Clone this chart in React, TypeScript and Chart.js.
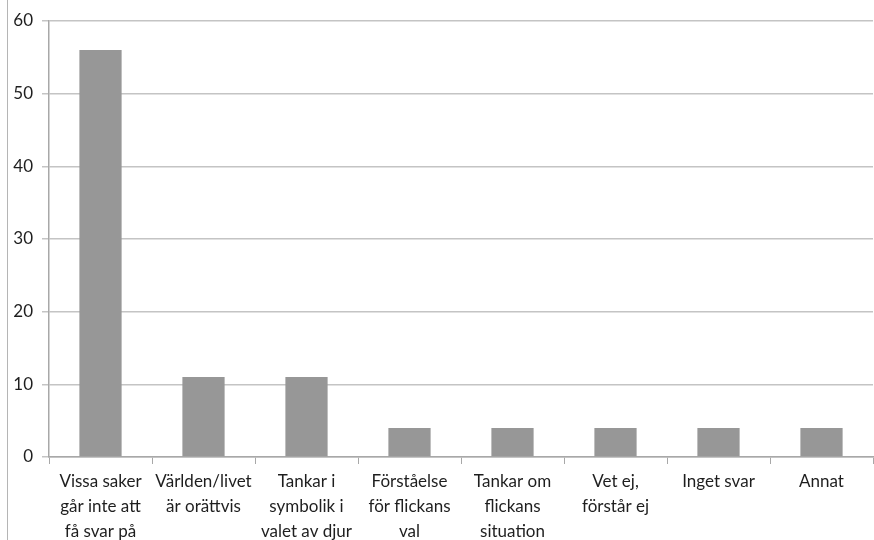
import React, { useEffect, useRef } from "react";
import { Chart, registerables } from "chart.js";

Chart.register(...registerables);

// Response categories (wrapped over several lines as in the axis)
const categories: string[][] = [
  ["Vissa saker", "går inte att", "få svar på"],
  ["Världen/livet", "är orättvis"],
  ["Tankar i", "symbolik i", "valet av djur"],
  ["Förståelse", "för flickans", "val"],
  ["Tankar om", "flickans", "situation"],
  ["Vet ej,", "förstår ej"],
  ["Inget svar"],
  ["Annat"],
];

const counts: number[] = [56, 11, 11, 4, 4, 4, 4, 4];

const yMin = 0;
const yMax = 60;
const yStep = 10;

const FONT = "Lato, 'Open Sans', sans-serif";

export default function App() {
  const canvasRef = useRef<HTMLCanvasElement | null>(null);

  useEffect(() => {
    const canvas = canvasRef.current;
    if (!canvas) return;
    const chart = new Chart(canvas, {
      type: "bar",
      data: {
        labels: categories,
        datasets: [
          {
            data: counts,
            backgroundColor: "#979797",
            borderWidth: 0,
            barPercentage: 0.41,
            categoryPercentage: 1,
          },
        ],
      },
      options: {
        animation: false,
        responsive: false,
        maintainAspectRatio: false,
        layout: { padding: { top: 21, right: 1, left: 0, bottom: 0 } },
        plugins: {
          legend: { display: false },
          tooltip: { enabled: false },
        },
        scales: {
          x: {
            grid: {
              display: true,
              drawOnChartArea: false,
              drawTicks: true,
              tickLength: 7,
              color: "#a8a8a8",
              offset: true,
            },
            border: { display: true, color: "#a8a8a8", width: 1.5 },
            ticks: {
              color: "#1e1e1e",
              font: { family: FONT, size: 17, lineHeight: 1.47 },
              padding: 5,
              maxRotation: 0,
              autoSkip: false,
            },
            afterFit: (scale: any) => {
              scale.height = 83;
            },
          },
          y: {
            min: yMin,
            max: yMax,
            ticks: {
              stepSize: yStep,
              color: "#1e1e1e",
              font: { family: FONT, size: 17 },
              padding: 9,
            },
            grid: {
              color: "#c4c4c4",
              lineWidth: 1.5,
              drawTicks: true,
              tickLength: 7,
            },
            border: { display: true, color: "#a8a8a8", width: 1.5 },
            afterFit: (scale: any) => {
              scale.width = 49;
            },
          },
        },
      },
    });
    return () => chart.destroy();
  }, []);

  return (
    <div
      style={{
        position: "absolute",
        left: 0,
        top: 0,
        width: 874,
        height: 540,
        background: "#ffffff",
        overflow: "hidden",
      }}
    >
      <div
        style={{
          position: "absolute",
          left: 7,
          top: 0,
          width: 1,
          height: 540,
          background: "#b5b5b5",
        }}
      />
      <canvas
        ref={canvasRef}
        width={874}
        height={540}
        style={{ position: "absolute", left: 0, top: 0, width: 874, height: 540 }}
      />
    </div>
  );
}
